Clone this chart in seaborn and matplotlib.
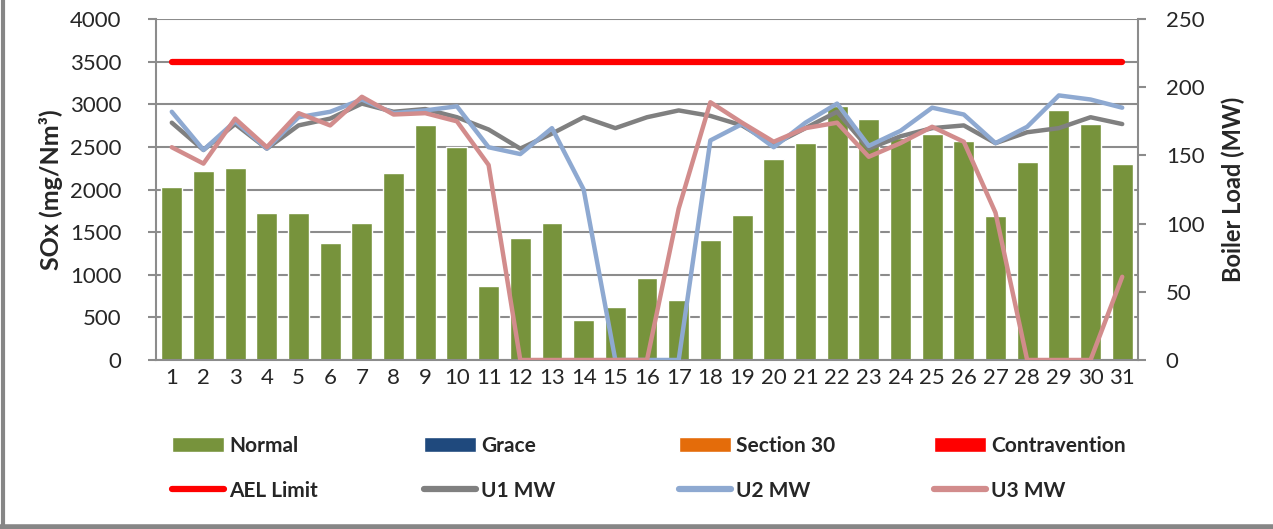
import matplotlib
matplotlib.use("Agg")
import matplotlib.pyplot as plt
from matplotlib.patches import Patch
from matplotlib.lines import Line2D
import seaborn as sns
import numpy as np
import pandas as pd

# daily data
days = list(range(1, 32))
sox_normal = [2030, 2220, 2250, 1730, 1730, 1370, 1610, 2190, 2760, 2500,
              870, 1430, 1610, 470, 620, 960, 700, 1410, 1700, 2360,
              2550, 2980, 2830, 2600, 2650, 2570, 1690, 2320, 2930, 2770, 2300]
ael_limit = [3500] * 31
u1_mw = [174, 154, 173, 155, 172, 177, 188, 182, 184, 178,
         169, 155, 166, 178, 170, 178, 183, 179, 172, 158,
         170, 182, 155, 164, 170, 172, 159, 167, 170, 178, 173]
u2_mw = [182, 154, 175, 155, 178, 182, 191, 181, 183, 186,
         156, 151, 170, 125, 0, 0, 0, 161, 173, 156,
         174, 188, 157, 168, 185, 180, 159, 171, 194, 191, 185]
u3_mw = [156, 144, 177, 156, 181, 172, 193, 180, 181, 175,
         143, 0, 0, 0, 0, 0, 111, 189, 174, 160,
         170, 174, 149, 159, 171, 160, 108, 0, 0, 0, 61]

df = pd.DataFrame({"day": days, "sox": sox_normal, "ael": ael_limit,
                   "u1": u1_mw, "u2": u2_mw, "u3": u3_mw})
df["pos"] = np.arange(len(df))

green = "#77933C"
grey = "#808080"
blue = "#8EA9D1"
pink = "#D28C8C"
red = "#FF0000"
gridc = "#8C8C8C"

sns.set_style("white")
plt.rcParams["font.family"] = ["Lato", "DejaVu Sans"]

fig = plt.figure(figsize=(12.73, 5.29), dpi=100)
ax = fig.add_axes([0.1225, 0.3195, 0.7715, 0.6445])

sns.barplot(data=df, x="day", y="sox", color=green, width=0.66,
            saturation=1, ax=ax, zorder=2)
sns.lineplot(data=df, x="pos", y="ael", color=red, lw=4.5, ax=ax, zorder=3)

ax.set_ylim(0, 4000)
ax.set_xlim(-0.5, 30.5)
ax.set_yticks(np.arange(0, 4001, 500))
ax.yaxis.grid(True, color=gridc, lw=1.5, zorder=0)
ax.set_axisbelow(True)
ax.set_xlabel("")
ax.set_ylabel("SOx (mg/Nm³)", fontsize=18, fontweight="bold", labelpad=5)
ax.tick_params(axis="y", labelsize=16, length=6, width=1.5, color=gridc, left=True, pad=19)
ax.tick_params(axis="x", labelsize=16, length=0, pad=6)
for s in ["top", "right"]:
    ax.spines[s].set_visible(False)
for s in ["left", "bottom"]:
    ax.spines[s].set_color(gridc)
    ax.spines[s].set_linewidth(1.5)

ax2 = ax.twinx()
sns.lineplot(data=df, x="pos", y="u1", color=grey, lw=3.2, ax=ax2)
sns.lineplot(data=df, x="pos", y="u2", color=blue, lw=3.2, ax=ax2)
sns.lineplot(data=df, x="pos", y="u3", color=pink, lw=3.2, ax=ax2)
ax2.set_ylim(0, 250)
ax2.set_yticks(np.arange(0, 251, 50))
ax2.set_ylabel("Boiler Load (MW)", fontsize=17, fontweight="bold", labelpad=12)
ax2.tick_params(axis="y", labelsize=16, length=6, width=1.5, color=gridc, right=True, pad=14)
for s in ["top", "left", "bottom"]:
    ax2.spines[s].set_visible(False)
ax2.spines["right"].set_color(gridc)
ax2.spines["right"].set_linewidth(1.5)
ax2.set_xlim(-0.5, 30.5)

# legend: four columns, each its own legend
cols = [
    (Patch(facecolor=green), "Normal", Line2D([], [], color=red, lw=4.5, solid_capstyle="round"), "AEL Limit"),
    (Patch(facecolor="#1F497D"), "Grace", Line2D([], [], color=grey, lw=4.5, solid_capstyle="round"), "U1 MW"),
    (Patch(facecolor="#E46C0A"), "Section 30", Line2D([], [], color=blue, lw=4.5, solid_capstyle="round"), "U2 MW"),
    (Patch(facecolor=red), "Contravention", Line2D([], [], color=pink, lw=4.5, solid_capstyle="round"), "U3 MW"),
]
xs = [163, 415, 670, 925]
for x, (h1, l1, h2, l2) in zip(xs, cols):
    fig.legend([h1, h2], [l1, l2], loc="upper left",
               bbox_to_anchor=(x / 1273 - 0.0075, 1 - 417 / 529),
               frameon=False, handlelength=2.5, handleheight=0.8,
               handletextpad=0.25, labelspacing=1.2,
               prop={"size": 15, "weight": "bold"})

# outer frame: left and bottom edges only
fig.add_artist(Line2D([3 / 1273, 3 / 1273], [0, 1], color="#868686", lw=3, transform=fig.transFigure))
fig.add_artist(Line2D([0, 1], [2 / 529, 2 / 529], color="#868686", lw=4, transform=fig.transFigure))

fig.savefig("out.png", dpi=100, facecolor="white")
